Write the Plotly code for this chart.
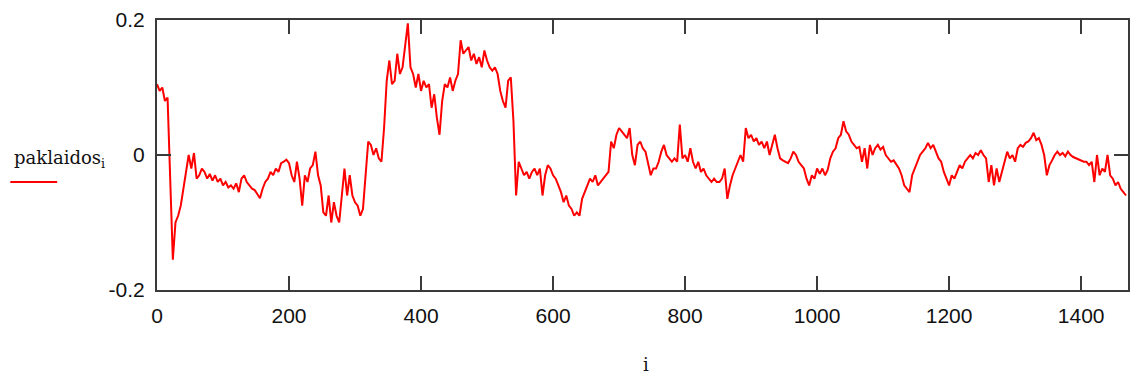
import plotly.graph_objects as go

# sampled every 4th index i
step = 4
paklaidos = [
    0.105, 0.095, 0.10, 0.08, 0.085, -0.05, -0.155, -0.10, -0.09, -0.075,
    -0.05, -0.02, 0.0, -0.02, 0.003, -0.035, -0.03, -0.02, -0.025, -0.035,
    -0.028, -0.038, -0.03, -0.04, -0.035, -0.045, -0.04, -0.048, -0.045, -0.05,
    -0.042, -0.055, -0.035, -0.03, -0.04, -0.045, -0.05, -0.052, -0.058, -0.064,
    -0.05, -0.04, -0.035, -0.025, -0.03, -0.02, -0.025, -0.012, -0.01, -0.007,
    -0.012, -0.03, -0.04, -0.01, -0.035, -0.075, -0.03, -0.04, -0.02, -0.015,
    0.005, -0.03, -0.045, -0.085, -0.09, -0.06, -0.1, -0.07, -0.09, -0.1,
    -0.06, -0.02, -0.06, -0.03, -0.06, -0.07, -0.075, -0.09, -0.08, -0.03,
    0.02, 0.015, 0.0, 0.01, -0.005, -0.01, 0.04, 0.11, 0.14, 0.105,
    0.11, 0.15, 0.12, 0.13, 0.16, 0.195, 0.13, 0.12, 0.1, 0.12,
    0.095, 0.11, 0.1, 0.105, 0.07, 0.09, 0.055, 0.03, 0.08, 0.105,
    0.1, 0.115, 0.095, 0.11, 0.12, 0.17, 0.15, 0.155, 0.16, 0.14,
    0.15, 0.135, 0.145, 0.13, 0.155, 0.14, 0.13, 0.125, 0.13, 0.12,
    0.095, 0.08, 0.07, 0.11, 0.115, 0.05, -0.06, -0.01, -0.02, -0.03,
    -0.025, -0.035, -0.025, -0.02, -0.03, -0.02, -0.06, -0.03, -0.015, -0.02,
    -0.03, -0.035, -0.045, -0.055, -0.07, -0.06, -0.075, -0.08, -0.09, -0.085,
    -0.09, -0.065, -0.055, -0.045, -0.035, -0.04, -0.03, -0.045, -0.04, -0.035,
    -0.03, -0.025, 0.02, 0.01, 0.03, 0.04, 0.035, 0.03, 0.025, 0.04,
    0.0, -0.015, 0.015, 0.02, 0.01, 0.005, -0.015, -0.03, -0.02, -0.02,
    -0.01, 0.005, 0.015, 0.0, -0.005, -0.01, -0.005, -0.01, 0.045, -0.005,
    0.0, -0.01, 0.01, -0.01, -0.02, -0.01, -0.025, -0.02, -0.03, -0.035,
    -0.04, -0.035, -0.04, -0.04, -0.035, -0.02, -0.065, -0.045, -0.03, -0.02,
    -0.01, 0.0, -0.01, 0.04, 0.025, 0.03, 0.02, 0.025, 0.015, 0.02,
    0.01, 0.02, 0.0, 0.015, 0.03, 0.01, -0.005, -0.008, -0.01, -0.012,
    -0.005, 0.005, 0.0, -0.01, -0.015, -0.02, -0.035, -0.045, -0.03, -0.035,
    -0.02, -0.028, -0.02, -0.03, -0.022, -0.005, 0.005, 0.01, 0.025, 0.03,
    0.05, 0.035, 0.03, 0.02, 0.015, 0.01, 0.012, -0.01, 0.01, -0.02,
    0.015, 0.0, 0.01, 0.015, 0.008, 0.012, 0.0, -0.005, -0.01, -0.008,
    -0.015, -0.02, -0.03, -0.045, -0.05, -0.055, -0.03, -0.02, -0.01, 0.0,
    0.005, 0.01, 0.018, 0.01, 0.015, 0.005, -0.005, -0.01, -0.025, -0.035,
    -0.045, -0.03, -0.035, -0.025, -0.015, -0.02, -0.01, -0.005, 0.0, -0.005,
    0.003, 0.0, 0.007, 0.0, -0.005, -0.04, -0.015, -0.045, -0.02, -0.04,
    -0.025, -0.01, 0.005, -0.005, 0.0, -0.01, 0.01, 0.015, 0.012, 0.018,
    0.02, 0.025, 0.033, 0.022, 0.025, 0.015, 0.0, -0.03, -0.015, -0.008,
    0.0, 0.005, 0.0, 0.003, -0.002, 0.005, 0.0, -0.003, -0.005, -0.006,
    -0.008, -0.01, -0.01, -0.015, -0.01, -0.04, 0.0, -0.03, -0.02, -0.025,
    0.0, -0.03, -0.035, -0.045, -0.04, -0.05, -0.055, -0.06,
]
i_vals = [k * step for k in range(len(paklaidos))]

x_ticks = [0, 200, 400, 600, 800, 1000, 1200, 1400]
x_labels = ["0", "200", "400", "600", "800", "1000", "1200", "1400"]
y_ticks = [-0.2, 0, 0.2]
y_labels = ["-0.2", "0", "0.2"]

AX = "#3a3a3a"
TICKFONT = dict(family="Liberation Sans, Arial, sans-serif", size=21, color="#111")

fig = go.Figure()
fig.add_trace(go.Scatter(x=i_vals, y=paklaidos, mode="lines",
                         line=dict(color="#ff0000", width=2),
                         showlegend=False, hoverinfo="skip"))

fig.update_layout(
    width=1130, height=377,
    margin=dict(l=157, r=0, t=20, b=87),
    paper_bgcolor="white", plot_bgcolor="white",
    xaxis=dict(range=[0, 1471], tickvals=x_ticks, ticktext=x_labels,
               ticks="inside", ticklen=14, tickwidth=2, tickcolor=AX,
               showline=True, linecolor=AX, linewidth=2, mirror="ticks",
               showgrid=False, zeroline=False, tickfont=TICKFONT,
               ticklabelstandoff=6),
    yaxis=dict(range=[-0.2, 0.2], tickvals=y_ticks, ticktext=y_labels,
               ticks="inside", ticklen=14, tickwidth=2, tickcolor=AX,
               showline=True, linecolor=AX, linewidth=2, mirror="ticks",
               showgrid=False, zeroline=False, tickfont=TICKFONT,
               ticklabelstandoff=6),
    annotations=[
        dict(text="paklaidos<sub>i</sub>", xref="paper", yref="paper",
             x=(12 - 157) / 973, y=(290 - 159) / 270, xanchor="left", yanchor="middle",
             showarrow=False,
             font=dict(family="DejaVu Serif, Liberation Serif, serif", size=18, color="#111")),
        dict(text="i", xref="paper", yref="paper",
             x=(647 - 157) / 973, y=(290 - 364) / 270, xanchor="center", yanchor="middle",
             showarrow=False,
             font=dict(family="DejaVu Serif, Liberation Serif, serif", size=18, color="#111")),
    ],
    shapes=[
        dict(type="line", xref="paper", yref="paper",
             x0=(10 - 157) / 973, x1=(57 - 157) / 973,
             y0=(290 - 182) / 270, y1=(290 - 182) / 270,
             line=dict(color="#ff0000", width=2)),
    ],
)

# remove the page's default body margin so the 1130x377 figure fills the window exactly
fig.write_html(
    "out.html",
    config={"displayModeBar": False},
    post_script="document.documentElement.style.margin='0';"
                "document.body.style.margin='0';"
                "document.body.style.overflow='hidden';",
)
